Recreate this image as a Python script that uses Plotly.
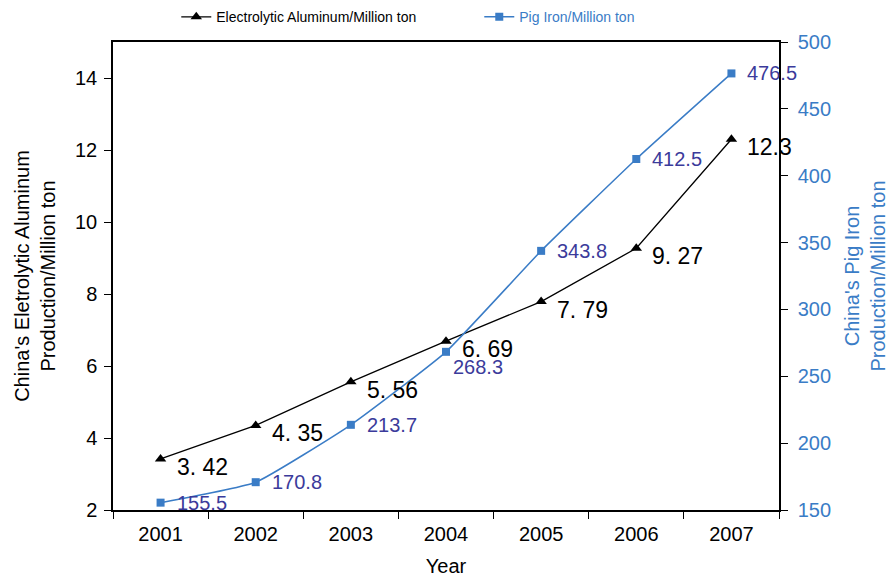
import plotly.graph_objects as go

years = ["2001", "2002", "2003", "2004", "2005", "2006", "2007"]
aluminum = [3.42, 4.35, 5.56, 6.69, 7.79, 9.27, 12.3]
pig_iron = [155.5, 170.8, 213.7, 268.3, 343.8, 412.5, 476.5]
aluminum_labels = ["3. 42", "4. 35", "5. 56", "6. 69", "7. 79", "9. 27", "12.3"]
pig_iron_labels = ["155.5", "170.8", "213.7", "268.3", "343.8", "412.5", "476.5"]

FONT = "Liberation Sans, Arial, sans-serif"
BLUE = "#3a7cc6"
LABEL_BLUE = "#3b3b9b"

fig = go.Figure()
fig.add_trace(go.Scatter(
    x=years, y=aluminum, mode="lines+markers",
    name="Electrolytic Aluminum/Million ton",
    line=dict(color="black", width=1.3),
    marker=dict(symbol="triangle-up", size=10, color="black"),
    yaxis="y",
))
fig.add_trace(go.Scatter(
    x=years, y=pig_iron, mode="lines+markers",
    name="<span style='color:%s'>Pig Iron/Million ton</span>" % BLUE,
    line=dict(color=BLUE, width=1.5, shape="spline", smoothing=0.4),
    marker=dict(symbol="square", size=8, color=BLUE),
    yaxis="y2",
))

annotations = []
for i, (v, t) in enumerate(zip(aluminum, aluminum_labels)):
    annotations.append(dict(x=i, y=v, xref="x", yref="y", text=t, showarrow=False,
                            xanchor="left", yanchor="middle", xshift=14, yshift=-8,
                            font=dict(family=FONT, size=23, color="black")))
for i, (v, t) in enumerate(zip(pig_iron, pig_iron_labels)):
    xs, ys = (14, 0)
    if i == 3:
        xs, ys = (5, -15)
    annotations.append(dict(x=i, y=v, xref="x", yref="y2", text=t, showarrow=False,
                            xanchor="left", yanchor="middle", xshift=xs, yshift=ys,
                            font=dict(family=FONT, size=20, color=LABEL_BLUE)))

fig.update_layout(
    width=889, height=579,
    margin=dict(l=113, r=110, t=42, b=69, autoexpand=False),
    paper_bgcolor="white", plot_bgcolor="white",
    font=dict(family=FONT, size=20, color="black"),
    showlegend=True,
    legend=dict(orientation="h", x=0.095, xanchor="left", y=1.053, yanchor="middle",
                bgcolor="rgba(0,0,0,0)", itemwidth=30,
                font=dict(family=FONT, size=14, color="black"),
                tracegroupgap=0, entrywidth=258, entrywidthmode="pixels"),
    xaxis=dict(
        type="category", range=[-0.5, 6.5], tickson="boundaries",
        showline=True, linecolor="black", linewidth=1.5, mirror=True,
        ticks="outside", ticklen=7, tickcolor="black", showgrid=False, zeroline=False,
        tickfont=dict(family=FONT, size=20, color="black"), ticklabelstandoff=5,
        title=dict(text="Year", font=dict(family=FONT, size=20, color="black"), standoff=15),
    ),
    yaxis=dict(
        range=[2, 15], tickvals=[2, 4, 6, 8, 10, 12, 14],
        showline=True, linecolor="black", linewidth=1.5,
        ticks="outside", ticklen=7, tickcolor="black", showgrid=False, zeroline=False,
        tickfont=dict(family=FONT, size=20, color="black"), ticklabelstandoff=3,
        title=dict(text="China's Eletrolytic Aluminum<br>Production/Million ton",
                   font=dict(family=FONT, size=20, color="black"), standoff=14),
    ),
    yaxis2=dict(
        range=[150, 500], tickvals=[150, 200, 250, 300, 350, 400, 450, 500],
        overlaying="y", side="right", anchor="x",
        showline=True, linecolor="black", linewidth=1.5,
        ticks="outside", ticklen=7, tickcolor="black", showgrid=False, zeroline=False,
        tickfont=dict(family=FONT, size=20, color=BLUE), ticklabelstandoff=6,
        title=dict(text="China's Pig Iron<br>Production/Million ton",
                   font=dict(family=FONT, size=20, color=BLUE), standoff=26),
    ),
    annotations=annotations,
)

fig.write_html("out.html")
